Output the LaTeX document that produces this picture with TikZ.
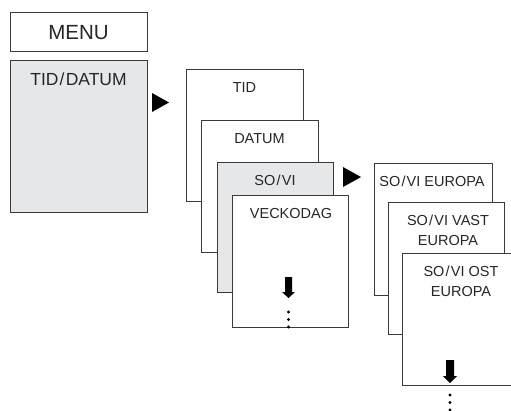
\documentclass[tikz,border=0pt]{standalone}
\usepackage{fontspec}
\setmainfont{Liberation Sans}
\definecolor{boxgray}{HTML}{E6E7E8}
\definecolor{linec}{HTML}{3A3A3A}
\newcommand{\slsh}{\kern1.2pt/\kern1.2pt}
\begin{document}
\begin{tikzpicture}[x=1pt,y=-1pt,
  panel/.style={draw=linec,line width=0.9pt,fill=white,inner sep=0pt,outer sep=0pt,anchor=north west},
  graypanel/.style={panel,fill=boxgray},
  lbl/.style={inner sep=0pt,anchor=base,font=\fontsize{14.5}{17}\selectfont,text=black!85},
  biglbl/.style={lbl,font=\fontsize{17.5}{21}\selectfont},
  menulbl/.style={lbl,font=\fontsize{20.5}{24}\selectfont},
  tri/.style={fill=black},
  dot/.style={fill=black,circle,inner sep=0pt,minimum size=3.2pt}]
\useasboundingbox (0,0) rectangle (511,410);

% left column
\node[panel,minimum width=137pt,minimum height=39pt] (menu) at (10,12) {};
\node[menulbl] (menut) at (78.5,39) {MENU};
\node[graypanel,minimum width=137pt,minimum height=152pt] (td) at (10,60) {};
\node[biglbl] (tdt) at (78.5,85) {TID\slsh DATUM};
\fill[tri] (152,93) -- (152,112) -- (169,102.5) -- cycle;

% middle stack
\node[panel,minimum width=117pt,minimum height=132pt] (tid) at (186,69) {};
\node[lbl] (tidt) at (244.5,92) {TID};
\node[panel,minimum width=117pt,minimum height=132pt] (datum) at (201,120) {};
\node[lbl] (datumt) at (259.5,143) {DATUM};
\node[graypanel,minimum width=116pt,minimum height=130pt] (sovi) at (217,162) {};
\node[lbl] (sovit) at (275,185) {SO\slsh VI};
\node[panel,minimum width=116pt,minimum height=132pt] (veck) at (232,195) {};
\node[lbl] (veckt) at (291,218) {VECKODAG};
\fill[black] (285,277) -- (292,277) -- (292,292) -- (295,292) -- (288.5,298)
  -- (282,292) -- (285,292) -- cycle;
\node[dot] (d1) at (288.5,312) {};
\node[dot] (d2) at (288.5,319.5) {};
\node[dot] (d3) at (288.5,327) {};
\fill[tri] (343,167) -- (343,187) -- (361,177) -- cycle;

% right stack
\node[panel,minimum width=118pt,minimum height=132pt] (eur) at (374,163) {};
\node[lbl] (eurt) at (432,186) {SO\slsh VI EUROPA};
\node[panel,minimum width=116pt,minimum height=132pt] (vast) at (388,202) {};
\node[lbl] (vastt) at (448,225) {SO\slsh VI VAST};
\node[lbl] (vastt2) at (448,245) {EUROPA};
\node[panel,minimum width=118pt,minimum height=132pt] (ost) at (402,253) {};
\node[lbl] (ostt) at (461,276) {SO\slsh VI OST};
\node[lbl] (ostt2) at (461,296) {EUROPA};
\fill[black] (446,360) -- (454,360) -- (454,376) -- (457,376) -- (450,383)
  -- (443,376) -- (446,376) -- cycle;
\node[dot] (e1) at (450,395) {};
\node[dot] (e2) at (450,402.5) {};
\node[dot] (e3) at (450,410) {};
\end{tikzpicture}
\end{document}
